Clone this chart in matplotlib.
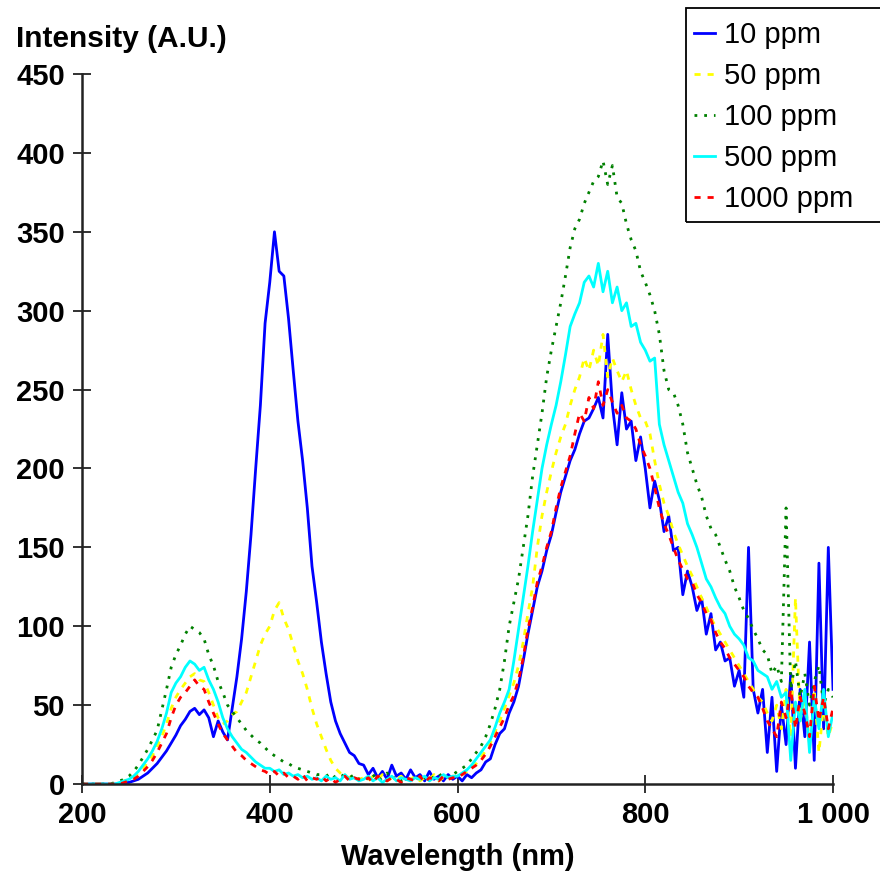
import numpy as np
import matplotlib.pyplot as plt
from matplotlib.patches import Rectangle

plt.rcParams['font.family'] = ['Liberation Sans', 'DejaVu Sans']

# wavelength grid (nm), one value every 5 nm
wavelength = np.arange(200, 1001, 5)

# intensities (A.U.)
ppm_10 = [0, 0, 0, 0, 0, 0, 0, 0, 0, 1,
          1, 2, 3, 5, 7, 10, 13, 17, 21, 26,
          31, 37, 41, 46, 48, 44, 47, 42, 30, 40,
          33, 28, 48, 68, 92, 122, 158, 200, 240, 292,
          318, 350, 325, 322, 295, 262, 230, 205, 175, 138,
          115, 90, 70, 52, 40, 32, 26, 20, 18, 13,
          12, 6, 10, 4, 8, 3, 12, 5, 7, 3,
          9, 4, 6, 2, 8, 3, 5, 2, 6, 3,
          5, 2, 6, 4, 7, 9, 14, 16, 25, 32,
          35, 45, 52, 62, 78, 95, 110, 125, 135, 148,
          158, 172, 185, 195, 205, 212, 222, 230, 232, 238,
          245, 232, 285, 240, 215, 248, 225, 230, 205, 220,
          200, 175, 192, 180, 160, 170, 148, 150, 120, 135,
          125, 110, 118, 95, 108, 85, 90, 78, 80, 62,
          72, 55, 150, 60, 45, 60, 20, 55, 8, 50,
          25, 70, 10, 60, 30, 90, 15, 140, 35, 150,
          60]

ppm_50 = [0, 0, 0, 0, 0, 0, 0, 0, 1, 2,
          3, 4, 7, 10, 14, 18, 24, 30, 38, 48,
          55, 60, 64, 68, 70, 66, 65, 58, 50, 42,
          38, 40, 44, 46, 52, 58, 68, 78, 88, 95,
          100, 110, 115, 105, 98, 88, 78, 70, 60, 48,
          38, 30, 22, 15, 10, 7, 5, 4, 6, 3,
          4, 2, 5, 3, 6, 2, 4, 3, 5, 2,
          3, 5, 2, 4, 3, 6, 2, 4, 3, 5,
          5, 6, 8, 10, 13, 17, 21, 26, 33, 40,
          48, 56, 64, 75, 90, 108, 125, 150, 170, 185,
          198, 210, 220, 228, 240, 250, 258, 270, 262, 275,
          265, 285, 258, 270, 262, 255, 262, 250, 240, 232,
          230, 222, 205, 190, 178, 170, 160, 152, 145, 138,
          132, 125, 118, 112, 105, 100, 95, 90, 85, 80,
          75, 70, 65, 60, 55, 52, 45, 40, 50, 35,
          60, 30, 118, 40, 55, 25, 60, 20, 50, 30,
          40]

ppm_100 = [0, 0, 0, 0, 0, 0, 0, 1, 2, 3,
           5, 8, 12, 17, 22, 28, 34, 47, 60, 74,
           82, 88, 95, 100, 98, 96, 92, 82, 75, 65,
           58, 50, 46, 42, 38, 34, 31, 28, 26, 23,
           20, 18, 16, 14, 13, 11, 10, 9, 8, 7,
           6, 6, 5, 7, 4, 6, 5, 4, 6, 3,
           5, 3, 6, 2, 4, 7, 3, 5, 2, 4,
           3, 5, 2, 4, 6, 3, 5, 7, 4, 6,
           8, 10, 12, 16, 20, 24, 30, 38, 48, 60,
           78, 100, 115, 130, 150, 170, 195, 215, 235, 258,
           275, 290, 305, 322, 340, 352, 358, 368, 375, 382,
           385, 395, 380, 392, 372, 368, 355, 345, 338, 325,
           318, 310, 300, 285, 262, 250, 248, 240, 228, 210,
           200, 190, 182, 170, 162, 158, 150, 142, 135, 125,
           118, 110, 105, 98, 92, 85, 82, 70, 75, 65,
           175, 60, 78, 55, 70, 50, 65, 75, 50, 60,
           55]

ppm_500 = [0, 0, 0, 0, 0, 0, 0, 0, 1, 2,
           3, 5, 8, 12, 16, 21, 27, 35, 45, 58,
           64, 68, 74, 78, 76, 72, 74, 66, 60, 52,
           42, 35, 30, 26, 22, 20, 17, 14, 12, 10,
           10, 8, 9, 6, 7, 5, 6, 4, 5, 3,
           4, 2, 5, 3, 4, 2, 6, 3, 4, 2,
           3, 5, 2, 4, 1, 3, 5, 2, 4, 3,
           2, 4, 3, 5, 2, 4, 3, 6, 4, 5,
           5, 7, 9, 12, 16, 20, 24, 28, 36, 45,
           52, 60, 78, 98, 118, 138, 160, 180, 200, 215,
           228, 240, 255, 272, 290, 298, 305, 318, 322, 315,
           330, 312, 325, 305, 315, 300, 305, 290, 292, 280,
           275, 268, 270, 228, 215, 205, 195, 185, 178, 165,
           158, 150, 140, 130, 125, 118, 112, 108, 100, 95,
           92, 88, 80, 78, 72, 70, 68, 60, 65, 55,
           58, 15, 52, 40, 60, 20, 55, 35, 60, 30,
           45]

ppm_1000 = [0, 0, 0, 0, 0, 0, 0, 0, 0, 1,
            2, 3, 5, 8, 11, 15, 20, 26, 32, 42,
            50, 55, 58, 62, 66, 62, 60, 52, 45, 38,
            32, 28, 24, 20, 18, 15, 13, 11, 9, 8,
            6, 8, 5, 7, 4, 5, 3, 6, 2, 4,
            3, 5, 2, 4, 1, 3, 5, 2, 4, 3,
            2, 4, 1, 5, 3, 2, 4, 3, 1, 4,
            3, 2, 5, 1, 4, 3, 2, 5, 3, 4,
            4, 6, 8, 10, 12, 15, 19, 24, 30, 36,
            42, 50, 56, 66, 80, 98, 112, 128, 138, 150,
            160, 175, 188, 198, 208, 222, 235, 230, 245, 238,
            255, 240, 250, 242, 235, 240, 232, 230, 225, 215,
            208, 200, 188, 175, 165, 158, 150, 142, 136, 130,
            128, 120, 115, 108, 104, 96, 90, 86, 80, 76,
            72, 68, 62, 58, 55, 48, 40, 35, 30, 52,
            42, 60, 35, 55, 45, 30, 62, 40, 55, 35,
            48]

labels = ['10 ppm', '50 ppm', '100 ppm', '500 ppm', '1000 ppm']
colors = ['#0000ff', '#ffff00', '#008000', '#00ffff', '#ff0000']
styles = ['-', (0, (2.2, 2.5)), (0, (1, 2.5)), '-', (0, (2.2, 2.5))]

fig = plt.figure(figsize=(8.8, 8.73), dpi=100)
ax = fig.add_axes([0.0932, 0.1019, 0.8534, 0.8133])

for vals, lab, c, ls in zip([ppm_10, ppm_50, ppm_100, ppm_500, ppm_1000],
                            labels, colors, styles):
    ax.plot(wavelength, vals, color=c, ls=ls, lw=2.0, label=lab)

ax.set_xlim(200, 1000)
ax.set_ylim(0, 450)
ax.set_xticks([200, 400, 600, 800, 1000])
ax.set_xticklabels(['200', '400', '600', '800', '1 000'])
ax.set_yticks(range(0, 451, 50))
ax.tick_params(direction='inout', length=12.5, width=1.3, color='#222222',
               labelsize=21, pad=6)
for t in ax.get_xticklabels() + ax.get_yticklabels():
    t.set_fontweight('bold')
for s in ['top', 'right']:
    ax.spines[s].set_visible(False)
for s in ['left', 'bottom']:
    ax.spines[s].set_linewidth(1.8)
    ax.spines[s].set_color('#222222')

ax.set_xlabel('Wavelength (nm)', fontsize=21, fontweight='bold', labelpad=10)
fig.text(16 / 880, 1 - 47 / 873, 'Intensity (A.U.)', fontsize=21.5,
         fontweight='bold', ha='left', va='baseline')

leg = ax.legend(loc='upper left', bbox_to_anchor=(674 / 880, 1 - 1 / 873),
                bbox_transform=fig.transFigure, frameon=False, fontsize=21,
                handlelength=0.7, handletextpad=0.3, labelspacing=0.44,
                borderpad=0.2)
fig.patches.append(Rectangle((686 / 880, 1 - 222 / 873), 0.3, 214 / 873,
                             transform=fig.transFigure, fill=False,
                             ec='black', lw=1.3))

fig.savefig('out.png', dpi=100)
